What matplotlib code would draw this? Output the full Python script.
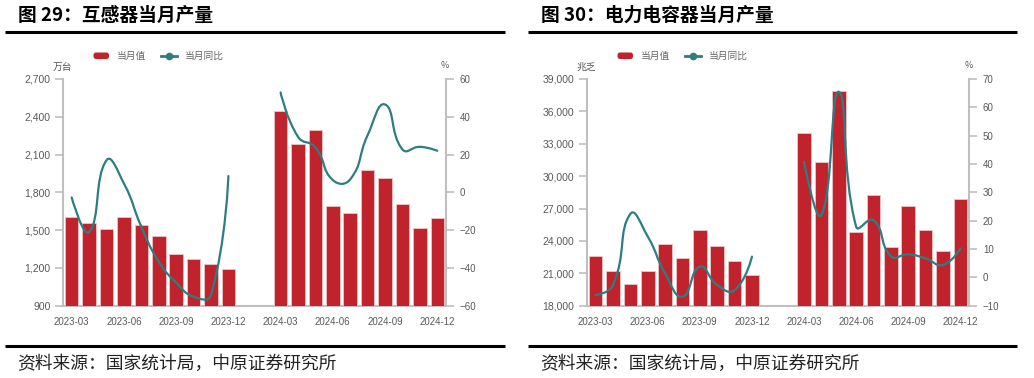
import numpy as np
import matplotlib
matplotlib.use("Agg")
import matplotlib.pyplot as plt
from matplotlib.path import Path
from matplotlib.patches import PathPatch, FancyBboxPatch
from matplotlib.lines import Line2D

plt.rcParams['font.family'] = ['Noto Sans CJK SC', 'DejaVu Sans']

# 月份（2024-01、2024-02 无数据）
months = ['2023-03', '2023-04', '2023-05', '2023-06', '2023-07', '2023-08',
          '2023-09', '2023-10', '2023-11', '2023-12', '2024-01', '2024-02',
          '2024-03', '2024-04', '2024-05', '2024-06', '2024-07', '2024-08',
          '2024-09', '2024-10', '2024-11', '2024-12']
tick_months = ['2023-03', '2023-06', '2023-09', '2023-12',
               '2024-03', '2024-06', '2024-09', '2024-12']
nan = np.nan

# 图29 互感器（万台，%）
ct_val = [1605, 1559, 1511, 1602, 1538, 1451, 1308, 1268, 1231, 1194, nan, nan,
          2448, 2182, 2293, 1694, 1634, 1977, 1916, 1707, 1519, 1594]
ct_yoy = [-2.7, -21.0, 17.0, 4.7, -18.2, -36.7, -47.8, -55.2, -54.3, 8.6, nan, nan,
          52.9, 29.4, 23.8, 6.5, 6.9, 30.3, 46.5, 22.7, 24.1, 22.0]

# 图30 电力电容器（兆乏，%）
cap_val = [22600, 21240, 19980, 21180, 23710, 22390, 25040, 23530, 22170, 20820, nan, nan,
           34020, 31310, 37850, 24830, 28220, 23460, 27200, 25040, 23040, 27850]
cap_yoy = [-6.2, -2.7, 22.4, 14.4, 1.4, -6.8, 3.8, -2.7, -4.5, 7.3, nan, nan,
           40.8, 22.0, 65.5, 17.9, 20.2, 7.5, 8.1, 6.7, 4.4, 10.2]

RED = '#c0232c'
TEAL = '#2d7d83'
GRAY = '#bfbfbf'
TXT = '#595959'
W, H = 1034, 378

fig = plt.figure(figsize=(W / 100, H / 100), dpi=100)


def px_rect(x0, x1, ytop, ybot):
    return [x0 / W, 1 - ybot / H, (x1 - x0) / W, (ybot - ytop) / H]


def smooth_line(ax, xs, ys, color, smooth=0.5):
    # echarts 风格平滑曲线，按连续段分别绘制
    xs = np.asarray(xs, float)
    ys = np.asarray(ys, float)
    ok = ~np.isnan(ys)
    segs = []
    cur = []
    for i in range(len(xs)):
        if ok[i]:
            cur.append(i)
        elif cur:
            segs.append(cur)
            cur = []
    if cur:
        segs.append(cur)
    inv = ax.transData.inverted()
    for seg in segs:
        p = ax.transData.transform(np.column_stack([xs[seg], ys[seg]]))
        n = len(p)
        verts = [p[0]]
        codes = [Path.MOVETO]
        cp_prev = p[0]
        for i in range(n - 1):
            a = p[i]
            b = p[i + 1]
            nxt = p[i + 2] if i + 2 < n else None
            if nxt is None:
                cp_b = b
            else:
                v = nxt - a
                d0 = np.hypot(*(b - a))
                d1 = np.hypot(*(nxt - b))
                r = d1 / (d0 + d1) if d0 + d1 > 0 else 0.5
                cp_b = b - v * smooth * (1 - r)
                cp_next = b + v * smooth * r
            verts += [cp_prev, cp_b, b]
            codes += [Path.CURVE4] * 3
            if nxt is not None:
                cp_prev = cp_next
        path = Path(inv.transform(np.array(verts)), codes)
        ax.add_patch(PathPatch(path, fill=False, edgecolor=color, lw=1.6,
                               capstyle='round', joinstyle='round', zorder=5))


def panel(x0, x1, vals, yoy, ylim, yticks, ylim2, yticks2):
    x = np.arange(len(months))
    ax = fig.add_axes(px_rect(x0, x1, 79, 305.7))
    ax.bar(x, vals, width=0.78, color=RED, edgecolor='#eec5c7', linewidth=0.6, zorder=3)
    ax.set_xlim(-0.5, len(months) - 0.5)
    ax.set_ylim(*ylim)
    ax.set_yticks(yticks)
    ax.set_yticklabels([f'{v:,}' for v in yticks])
    ax.set_xticks([months.index(m) for m in tick_months])
    ax.set_xticklabels(tick_months)
    ax.tick_params(axis='x', length=0, pad=8, labelsize=7, labelcolor=TXT)
    ax.tick_params(axis='y', length=6, width=1.2, color=GRAY, pad=3,
                   labelsize=7.5, labelcolor=TXT)
    for lab in ax.get_xticklabels() + ax.get_yticklabels():
        lab.set_fontfamily('Liberation Sans')
    for s in ['top', 'right']:
        ax.spines[s].set_visible(False)
    for s in ['left', 'bottom']:
        ax.spines[s].set_color(GRAY)
        ax.spines[s].set_linewidth(1.5)

    ax2 = ax.twinx()
    ax2.set_position(px_rect(x0, x1, 79, 305.7))
    ax2.set_xlim(-0.5, len(months) - 0.5)
    ax2.set_ylim(*ylim2)
    ax2.set_yticks(yticks2)
    ax2.tick_params(axis='y', length=6, width=1.2, color=GRAY, pad=4,
                    labelsize=7, labelcolor=TXT)
    for lab in ax2.get_yticklabels():
        lab.set_fontfamily('Liberation Sans')
    for s in ['top', 'left', 'bottom']:
        ax2.spines[s].set_visible(False)
    ax2.spines['right'].set_color(GRAY)
    ax2.spines['right'].set_linewidth(1.5)
    smooth_line(ax2, x, yoy, TEAL)


panel(63, 446, ct_val, ct_yoy, (900, 2700), list(range(900, 2701, 300)),
      (-60, 60), list(range(-60, 61, 20)))
panel(587, 969, cap_val, cap_yoy, (18000, 39000), list(range(18000, 39001, 3000)),
      (-10, 70), list(range(-10, 71, 10)))

# 覆盖层：标题、图例、横线、资料来源（像素坐标）
ov = fig.add_axes([0, 0, 1, 1], zorder=-1)
ov.set_xlim(0, W)
ov.set_ylim(H, 0)
ov.axis('off')

panels = [
    (0, '图 29：互感器当月产量', '万台', 5, 505, 18),
    (524, '图 30：电力电容器当月产量', '兆乏', 528, 1017, 541),
]
for dx, title, unit, lx0, lx1, tx in panels:
    ov.text(tx, 15, title, fontsize=13.5, fontweight='bold', va='center', ha='left')
    ov.plot([lx0, lx1], [31.5, 31.5], color='black', lw=2.2, solid_capstyle='butt')
    ov.plot([lx0, lx1], [346, 346], color='black', lw=2.2, solid_capstyle='butt')
    ov.text(tx - 1, 364, '资料来源：国家统计局，中原证券研究所', fontsize=12.8,
            va='center', ha='left', color='#222222')
    # 图例
    ov.add_patch(FancyBboxPatch((93.5 + dx, 52.5), 15.5, 6.5,
                                boxstyle='round,pad=0,rounding_size=2.5',
                                fc=RED, ec='none'))
    ov.text(117 + dx, 56, '当月值', fontsize=7, va='center', ha='left', color='#666666')
    ov.add_line(Line2D([161 + dx, 177 + dx], [56, 56], color=TEAL, lw=2))
    ov.add_line(Line2D([169 + dx], [56], marker='o', ms=4.5, color=TEAL))
    ov.text(185 + dx, 56, '当月同比', fontsize=7, va='center', ha='left', color='#666666')
    # 单位
    ov.text(62 + dx, 67, unit, fontsize=7, va='center', ha='center', color='#555555')
    ov.text(445 + dx, 66, '%', fontsize=6.5, va='center', ha='center', color='#555555')

fig.savefig('out.png', dpi=100)
